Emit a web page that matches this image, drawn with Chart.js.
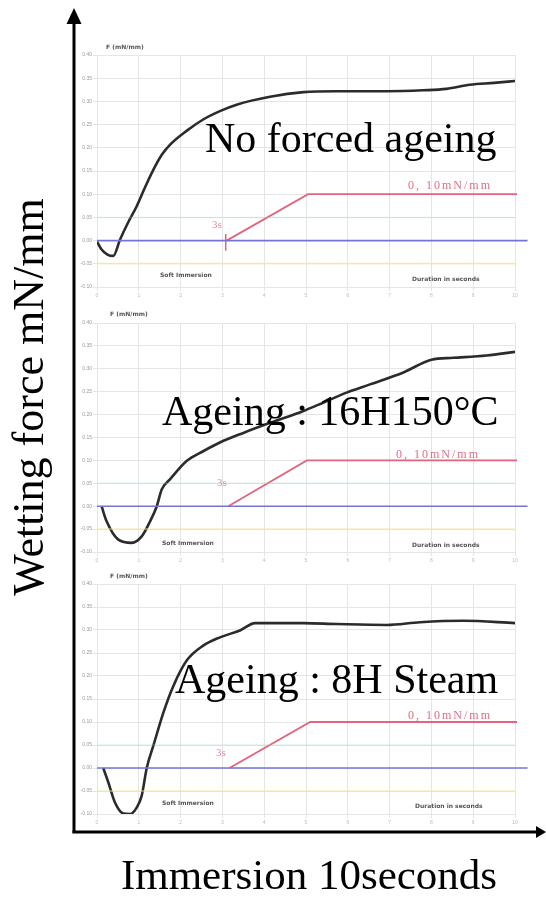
<!DOCTYPE html>
<html>
<head>
<meta charset="utf-8">
<script src="https://cdn.jsdelivr.net/npm/chart.js@4.4.1/dist/chart.umd.min.js"></script>
<style>
  html, body { margin: 0; padding: 0; background: #fff; }
  body { width: 546px; height: 899px; position: relative; overflow: hidden; }
  #plots { position: absolute; left: 0; top: 0; width: 546px; height: 899px; filter: blur(0.6px); }
  #plots canvas { position: absolute; }
  .lbl { position: absolute; font-family: "DejaVu Sans", sans-serif; font-size: 6px; font-weight: bold; color: #555; white-space: nowrap; line-height: 1; }
  .red { position: absolute; font-family: "Liberation Serif", serif; font-size: 12px; color: #e26d80; letter-spacing: 2px; white-space: nowrap; line-height: 1; }
  .ramp { position: absolute; font-family: "Liberation Serif", serif; font-size: 11px; color: #e88a98; white-space: nowrap; line-height: 1; }
  svg { position: absolute; left: 0; top: 0; }
  svg text { font-family: "Liberation Serif", "Times New Roman", serif; fill: #000; }
</style>
</head>
<body>
<div id="plots">
  <canvas id="c1" width="471" height="262" style="left:75px;top:40px"></canvas>
  <canvas id="c2" width="471" height="262" style="left:75px;top:305px"></canvas>
  <canvas id="c3" width="471" height="261" style="left:75px;top:568px"></canvas>

  <div class="lbl" style="left:106px;top:44px">F (mN/mm)</div>
  <div class="lbl" style="left:160px;top:272px">Soft Immersion</div>
  <div class="lbl" style="left:412px;top:276px">Duration in seconds</div>
  <div class="red" style="left:408px;top:179px">0, 10mN/mm</div>
  <div class="ramp" style="left:212px;top:219px">3s</div>

  <div class="lbl" style="left:110px;top:311px">F (mN/mm)</div>
  <div class="lbl" style="left:162px;top:540px">Soft Immersion</div>
  <div class="lbl" style="left:412px;top:542px">Duration in seconds</div>
  <div class="red" style="left:396px;top:448px">0, 10mN/mm</div>
  <div class="ramp" style="left:217px;top:477px">3s</div>

  <div class="lbl" style="left:110px;top:573px">F (mN/mm)</div>
  <div class="lbl" style="left:162px;top:800px">Soft Immersion</div>
  <div class="lbl" style="left:415px;top:803px">Duration in seconds</div>
  <div class="red" style="left:408px;top:709px">0, 10mN/mm</div>
  <div class="ramp" style="left:216px;top:747px">3s</div>
</div>

<svg width="546" height="899">
  <line x1="74" y1="20" x2="74" y2="833" stroke="#000" stroke-width="3"/>
  <polygon points="74,8 66.5,24 81.5,24" fill="#000"/>
  <line x1="72.5" y1="832" x2="538" y2="832" stroke="#000" stroke-width="3"/>
  <polygon points="546,832 536,826 536,838" fill="#000"/>

  <text x="205" y="152" font-size="42">No forced ageing</text>
  <text x="162" y="425" font-size="42">Ageing : 16H150°C</text>
  <text x="175" y="693" font-size="42">Ageing : 8H Steam</text>

  <text transform="translate(43,397) rotate(-90)" text-anchor="middle" font-size="44">Wetting force mN/mm</text>
  <text x="309" y="889" text-anchor="middle" font-size="43">Immersion 10seconds</text>
</svg>

<script>
// Wetting balance curves: immersion time (s) vs wetting force (mN/mm)
const forceMin = -0.10;
const forceMax = 0.40;
const forceStep = 0.05;
const timeMin = 0;
const timeMax = 10;
const timeStep = 1;

// No forced ageing
const time1 = [0, 0.1, 0.25, 0.39, 0.55, 0.75, 0.95, 1.15, 1.35, 1.55, 1.75, 2.15, 2.54, 2.94, 3.34, 4.14, 4.94, 5.73, 6.93, 7.8, 8.36, 8.92, 9.5, 10.0];
const force1 = [-0.002, -0.018, -0.03, -0.033, 0.002, 0.04, 0.074, 0.115, 0.153, 0.185, 0.207, 0.237, 0.261, 0.279, 0.293, 0.31, 0.32, 0.322, 0.322, 0.324, 0.327, 0.336, 0.34, 0.344];

// Ageing 16H 150°C
const time2 = [0.11, 0.23, 0.51, 0.83, 1.07, 1.27, 1.43, 1.55, 1.75, 2.15, 2.54, 2.94, 3.5, 4.14, 4.94, 5.41, 5.97, 6.53, 7.33, 8.0, 8.52, 9.32, 10.0];
const force2 = [0, -0.033, -0.073, -0.08, -0.066, -0.033, 0, 0.037, 0.059, 0.099, 0.12, 0.139, 0.16, 0.182, 0.208, 0.226, 0.248, 0.266, 0.292, 0.32, 0.324, 0.329, 0.337];

// Ageing 8H steam
const time3 = [0.15, 0.27, 0.43, 0.63, 0.79, 0.95, 1.07, 1.19, 1.35, 1.59, 1.83, 2.15, 2.54, 2.94, 3.42, 3.78, 4.94, 5.73, 6.93, 7.73, 8.76, 10.0];
const force3 = [0, -0.031, -0.075, -0.099, -0.1, -0.086, -0.06, 0, 0.049, 0.121, 0.179, 0.234, 0.266, 0.284, 0.299, 0.315, 0.315, 0.313, 0.311, 0.317, 0.32, 0.315];

// Acceptance criterion: 0,10 mN/mm reached after the ramp
const rampTime1 = [3.1, 5.05, 10.05];
const rampTime2 = [3.14, 5.02, 10.05];
const rampTime3 = [3.17, 5.1, 10.05];
const rampForce = [0, 0.10, 0.10];

// Zero-force reference line
const zeroTime = [0, 10.3];
const zeroForce = [0, 0];

// Faint guide levels
const guideTime = [0, 10];
const guideLow = [-0.05, -0.05];
const guideHigh = [0.05, 0.05];

// Start marker of the ramp
const markTime = [3.08, 3.08];
const markForce = [0.014, -0.022];

function pts(ts, vs) { return ts.map((t, i) => ({ x: t, y: vs[i] })); }

function panel(id, padTop, time, force, rampTime, withMark) {
  const sets = [
    { data: pts(guideTime, guideLow), borderColor: 'rgba(240,230,150,0.45)', borderWidth: 2, pointRadius: 0 },
    { data: pts(guideTime, guideHigh), borderColor: 'rgba(150,225,170,0.3)', borderWidth: 1.5, pointRadius: 0 },
    { data: pts(zeroTime, zeroForce), borderColor: '#7474d6', borderWidth: 1.6, pointRadius: 0, clip: false },
    { data: pts(rampTime, rampForce), borderColor: '#e0657d', borderWidth: 1.8, pointRadius: 0, clip: false }
  ];
  if (withMark) {
    sets.push({ data: pts(markTime, markForce), borderColor: '#e0657d', borderWidth: 1.5, pointRadius: 0 });
  }
  sets.push({ data: pts(time, force), borderColor: '#2b2b2b', borderWidth: 2.6, pointRadius: 0, cubicInterpolationMode: 'monotone' });

  new Chart(document.getElementById(id), {
    type: 'line',
    data: { datasets: sets },
    options: {
      responsive: false,
      animation: false,
      events: [],
      layout: { padding: { top: padTop, right: 31, left: 0, bottom: 0 } },
      plugins: { legend: { display: false }, tooltip: { enabled: false } },
      scales: {
        x: {
          type: 'linear', min: timeMin, max: timeMax,
          ticks: { stepSize: timeStep, font: { size: 5 }, color: '#bbb', padding: 2, maxRotation: 0 },
          grid: { color: '#e5e5e5', tickLength: 4 },
          border: { display: false },
          afterFit(s) { s.height = 15; }
        },
        y: {
          min: forceMin, max: forceMax,
          ticks: { stepSize: forceStep, font: { size: 5 }, color: '#999', padding: 1,
                   callback: v => (Math.round(v * 100) / 100).toFixed(2) },
          grid: { color: '#e5e5e5', tickLength: 4 },
          border: { display: false },
          afterFit(s) { s.width = 22; }
        }
      }
    }
  });
}

panel('c1', 15, time1, force1, rampTime1, true);
panel('c2', 18, time2, force2, rampTime2, false);
panel('c3', 16, time3, force3, rampTime3, false);
</script>
</body>
</html>
